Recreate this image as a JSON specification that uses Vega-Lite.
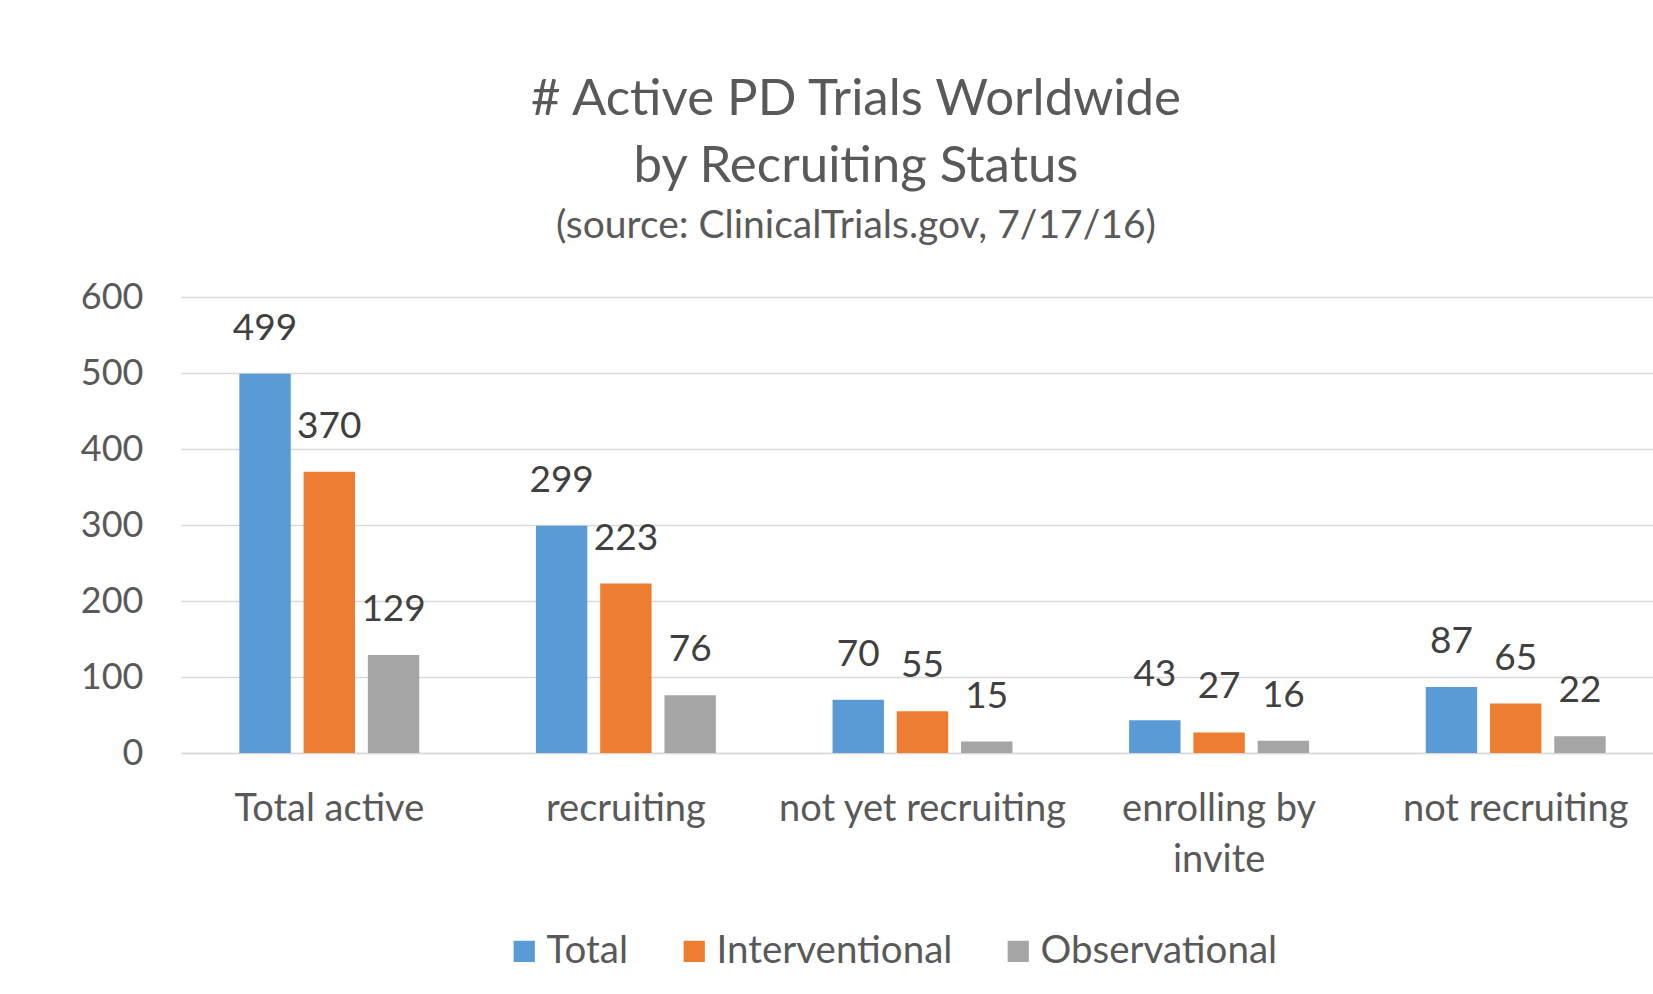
{
  "$schema": "https://vega.github.io/schema/vega-lite/v6.json",
  "autosize": {"type": "none"},
  "width": 1472,
  "height": 456,
  "padding": {"left": 181, "top": 297, "right": 0, "bottom": 241},
  "background": "white",
  "view": {"stroke": null},
  "title": {
    "text": ["# Active PD Trials Worldwide", "by Recruiting Status"],
    "subtitle": "(source: ClinicalTrials.gov, 7/17/16)",
    "anchor": "middle",
    "frame": "group",
    "dx": -61,
    "offset": 32,
    "font": "Lato",
    "fontSize": 51,
    "fontWeight": "normal",
    "color": "#595959",
    "lineHeight": 67,
    "subtitleFont": "Lato",
    "subtitleFontSize": 39,
    "subtitleColor": "#595959",
    "subtitlePadding": 14
  },
  "data": {
    "values": [
      {"status": "Total active", "series": "Total", "count": 499},
      {"status": "Total active", "series": "Interventional", "count": 370},
      {"status": "Total active", "series": "Observational", "count": 129},
      {"status": "recruiting", "series": "Total", "count": 299},
      {"status": "recruiting", "series": "Interventional", "count": 223},
      {"status": "recruiting", "series": "Observational", "count": 76},
      {"status": "not yet recruiting", "series": "Total", "count": 70},
      {"status": "not yet recruiting", "series": "Interventional", "count": 55},
      {"status": "not yet recruiting", "series": "Observational", "count": 15},
      {"status": "enrolling by invite", "series": "Total", "count": 43},
      {"status": "enrolling by invite", "series": "Interventional", "count": 27},
      {"status": "enrolling by invite", "series": "Observational", "count": 16},
      {"status": "not recruiting", "series": "Total", "count": 87},
      {"status": "not recruiting", "series": "Interventional", "count": 65},
      {"status": "not recruiting", "series": "Observational", "count": 22}
    ]
  },
  "encoding": {
    "x": {
      "field": "status",
      "type": "nominal",
      "sort": ["Total active", "recruiting", "not yet recruiting", "enrolling by invite", "not recruiting"],
      "scale": {"range": [0, 1483], "paddingInner": 0.35, "paddingOuter": 0.175},
      "axis": {
        "title": null,
        "labelAngle": 0,
        "labelFont": "Lato",
        "labelFontSize": 38,
        "labelColor": "#595959",
        "labelPadding": 37,
        "labelLineHeight": 51,
        "labelLimit": 0,
        "labelExpr": "datum.label == 'enrolling by invite' ? ['enrolling by', 'invite'] : datum.label",
        "ticks": false,
        "domainColor": "#D9D9D9",
        "domainWidth": 1.5
      }
    },
    "xOffset": {
      "field": "series",
      "sort": ["Total", "Interventional", "Observational"],
      "scale": {"paddingInner": 0.2, "paddingOuter": 0.1}
    },
    "y": {
      "field": "count",
      "type": "quantitative",
      "scale": {"domain": [0, 600]},
      "axis": {
        "title": null,
        "values": [0, 100, 200, 300, 400, 500, 600],
        "labelFont": "Lato",
        "labelFontSize": 36,
        "labelColor": "#595959",
        "labelPadding": 38,
        "domain": false,
        "ticks": false,
        "grid": true,
        "gridColor": "#D9D9D9",
        "gridWidth": 1.5
      }
    }
  },
  "layer": [
    {
      "mark": {"type": "bar"},
      "encoding": {
        "color": {
          "field": "series",
          "type": "nominal",
          "sort": ["Total", "Interventional", "Observational"],
          "scale": {"domain": ["Total", "Interventional", "Observational"], "range": ["#5B9BD5", "#ED7D31", "#A5A5A5"]},
          "legend": {
            "title": null,
            "orient": "none",
            "direction": "horizontal",
            "legendX": 324,
            "legendY": 635,
            "padding": 0,
            "symbolType": "square",
            "symbolSize": 450,
            "symbolStrokeWidth": 0,
            "labelFont": "Lato",
            "labelFontSize": 38.5,
            "labelColor": "#595959",
            "labelOffset": 3,
            "columnPadding": 46,
            "labelLimit": 0
          }
        }
      }
    },
    {
      "mark": {"type": "text", "dy": -45, "baseline": "middle", "font": "Lato", "fontSize": 37, "color": "#404040"},
      "encoding": {"text": {"field": "count", "type": "quantitative"}}
    }
  ]
}
